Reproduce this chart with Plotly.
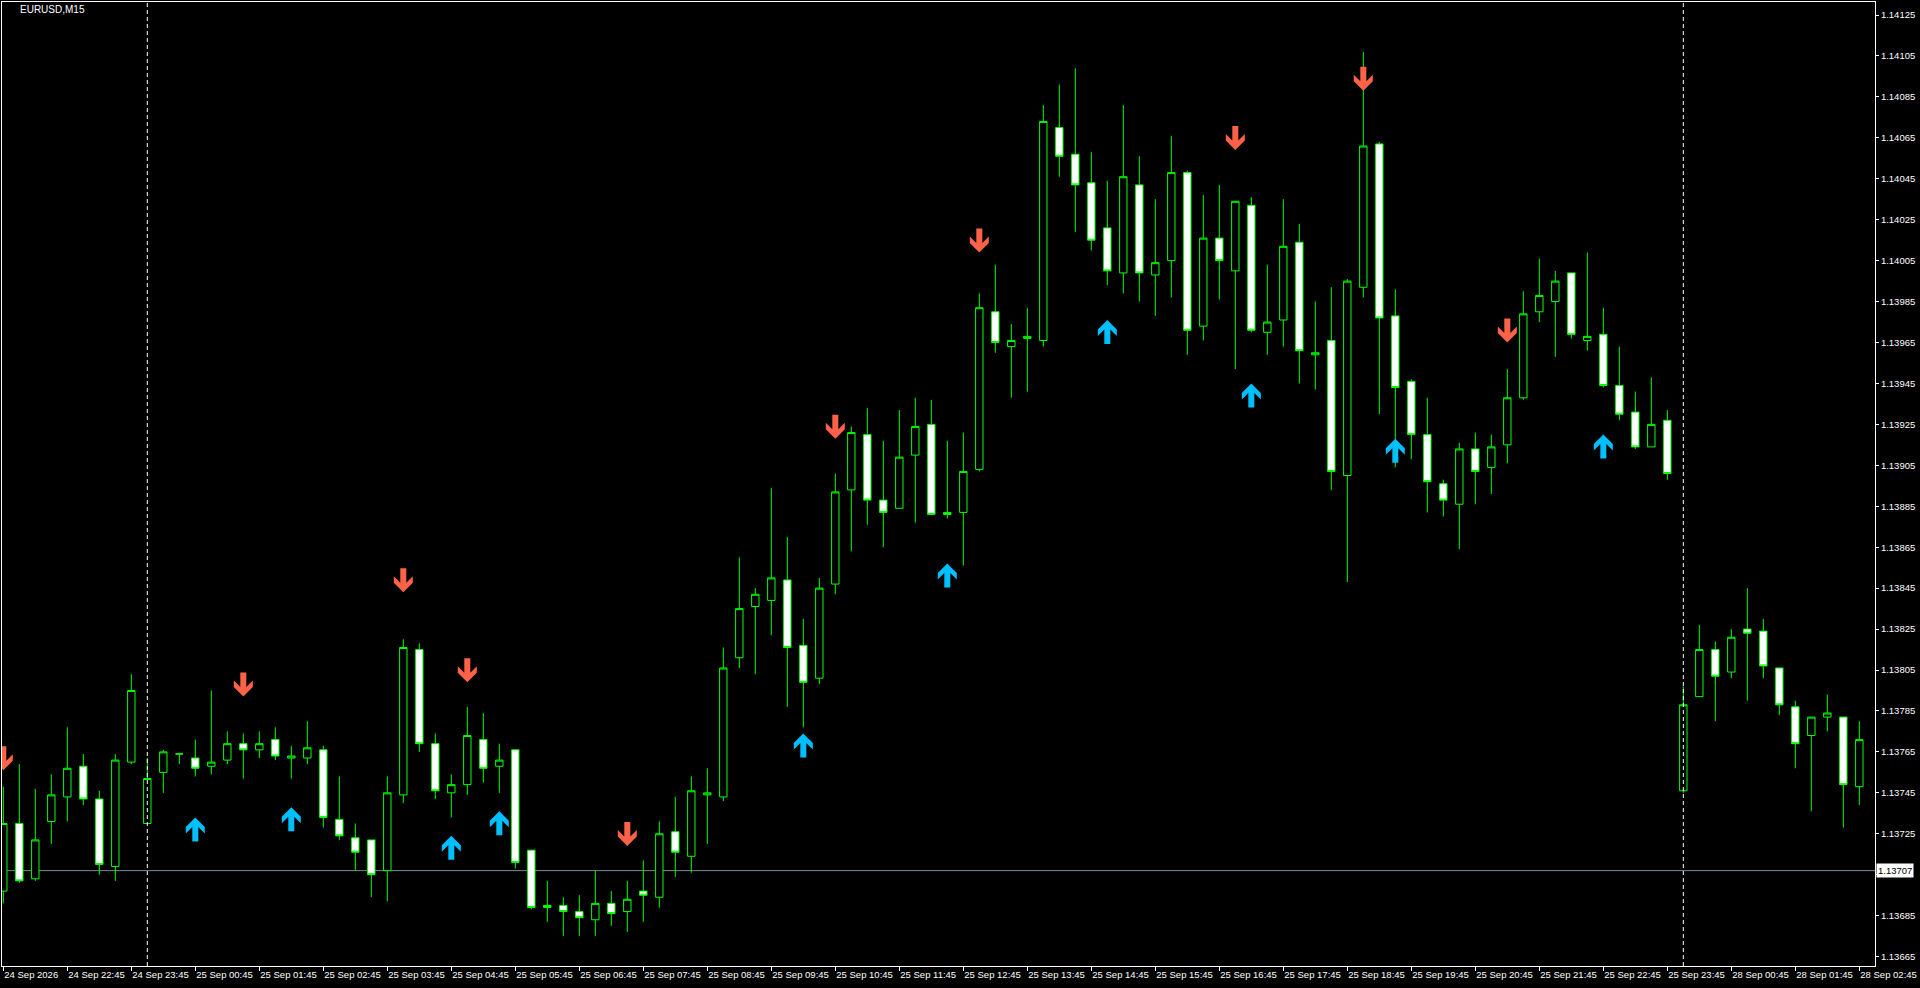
import plotly.graph_objects as go

# ---------------- data ----------------
bar_index = list(range(117))

opens = [1.13697,1.13730,1.13703,1.13731,1.13743,1.13758,1.13742,1.13709,1.13760,1.13730,
         1.13755,1.13764,1.13762,1.13758,1.13761,1.13769,1.13766,1.13771,1.13762,1.13762,
         1.13766,1.13732,1.13723,1.13722,1.13707,1.13744,1.13815,1.13769,1.13745,1.13749,
         1.13771,1.13758,1.13766,1.13717,1.13690,1.13690,1.13687,1.13683,1.13691,1.13687,
         1.13697,1.13694,1.13726,1.13714,1.13744,1.13743,1.13811,1.13836,1.13839,1.13849,
         1.13817,1.13801,1.13847,1.13893,1.13920,1.13888,1.13884,1.13910,1.13925,1.13882,
         1.13882,1.13903,1.13980,1.13963,1.13967,1.13966,1.14070,1.14057,1.14043,1.14021,
         1.13999,1.14042,1.13998,1.14005,1.14048,1.13973,1.14016,1.14000,1.14032,1.13970,
         1.13976,1.14014,1.13959,1.13966,1.13900,1.13992,1.14062,1.13978,1.13946,1.13920,
         1.13896,1.13886,1.13913,1.13904,1.13915,1.13938,1.13980,1.13985,1.13999,1.13966,
         1.13969,1.13944,1.13931,1.13914,1.13927,1.13746,1.13792,1.13815,1.13804,1.13825,
         1.13824,1.13806,1.13787,1.13773,1.13782,1.13782,1.13748]

highs = [1.13748,1.13759,1.13747,1.13754,1.13777,1.13764,1.13746,1.13764,1.13803,1.13762,
         1.13766,1.13764,1.13771,1.13795,1.13775,1.13774,1.13775,1.13777,1.13768,1.13780,
         1.13768,1.13753,1.13730,1.13722,1.13753,1.13820,1.13818,1.13774,1.13754,1.13787,
         1.13784,1.13769,1.13766,1.13717,1.13702,1.13694,1.13695,1.13707,1.13697,1.13702,
         1.13712,1.13731,1.13743,1.13753,1.13757,1.13816,1.13860,1.13845,1.13894,1.13870,
         1.13830,1.13850,1.13901,1.13924,1.13933,1.13917,1.13932,1.13938,1.13937,1.13917,
         1.13921,1.13989,1.14003,1.13974,1.13982,1.14081,1.14091,1.14099,1.14058,1.14044,
         1.14081,1.14056,1.14035,1.14066,1.14049,1.14037,1.14042,1.14034,1.14036,1.14003,
         1.14035,1.14023,1.13985,1.13992,1.13996,1.14107,1.14063,1.13991,1.13947,1.13938,
         1.13898,1.13916,1.13921,1.13920,1.13952,1.13990,1.14006,1.14000,1.13999,1.14009,
         1.13982,1.13963,1.13941,1.13948,1.13932,1.13797,1.13827,1.13819,1.13825,1.13845,
         1.13830,1.13806,1.13790,1.13782,1.13793,1.13782,1.13780]

lows = [1.13691,1.13701,1.13702,1.13720,1.13731,1.13739,1.13705,1.13702,1.13759,1.13730,
        1.13745,1.13759,1.13753,1.13754,1.13759,1.13752,1.13762,1.13761,1.13752,1.13759,
        1.13728,1.13722,1.13707,1.13694,1.13692,1.13740,1.13765,1.13742,1.13733,1.13744,
        1.13750,1.13745,1.13708,1.13688,1.13682,1.13675,1.13675,1.13675,1.13680,1.13677,
        1.13682,1.13689,1.13704,1.13706,1.13720,1.13741,1.13806,1.13803,1.13822,1.13787,
        1.13777,1.13798,1.13842,1.13863,1.13876,1.13865,1.13884,1.13877,1.13881,1.13879,
        1.13856,1.13902,1.13960,1.13938,1.13941,1.13963,1.14046,1.14019,1.14010,1.13993,
        1.13989,1.13985,1.13978,1.13987,1.13959,1.13966,1.13986,1.13952,1.13970,1.13959,
        1.13963,1.13945,1.13942,1.13893,1.13848,1.13987,1.13930,1.13904,1.13908,1.13882,
        1.13880,1.13864,1.13886,1.13891,1.13906,1.13937,1.13975,1.13958,1.13967,1.13961,
        1.13943,1.13927,1.13913,1.13914,1.13898,1.13745,1.13792,1.13780,1.13801,1.13790,
        1.13801,1.13783,1.13757,1.13736,1.13775,1.13728,1.13739]

closes = [1.13730,1.13702,1.13722,1.13744,1.13757,1.13742,1.13710,1.13761,1.13795,1.13752,
          1.13765,1.13764,1.13757,1.13760,1.13769,1.13766,1.13769,1.13763,1.13763,1.13767,
          1.13733,1.13724,1.13716,1.13705,1.13745,1.13816,1.13769,1.13746,1.13749,1.13773,
          1.13757,1.13761,1.13711,1.13689,1.13689,1.13687,1.13684,1.13691,1.13686,1.13693,
          1.13695,1.13725,1.13716,1.13746,1.13745,1.13806,1.13835,1.13842,1.13850,1.13816,
          1.13799,1.13845,1.13892,1.13921,1.13888,1.13882,1.13909,1.13924,1.13881,1.13881,
          1.13902,1.13982,1.13965,1.13966,1.13968,1.14073,1.14056,1.14042,1.14015,1.14000,
          1.14046,1.13999,1.14004,1.14048,1.13971,1.14016,1.14005,1.14034,1.13971,1.13975,
          1.14012,1.13961,1.13960,1.13902,1.13995,1.14061,1.13977,1.13943,1.13920,1.13897,
          1.13888,1.13913,1.13902,1.13914,1.13938,1.13979,1.13988,1.13995,1.13969,1.13968,
          1.13944,1.13930,1.13914,1.13925,1.13901,1.13788,1.13815,1.13802,1.13821,1.13823,
          1.13807,1.13788,1.13769,1.13782,1.13784,1.13749,1.13771]

# signal arrows (bar index, price of arrow tip)
sell_bars = [0, 15, 25, 29, 39, 52, 61, 77, 85, 94]
sell_tips = [1.13756, 1.13792, 1.13843, 1.13799, 1.13719, 1.13918, 1.14009, 1.14059, 1.14088, 1.13965]
buy_bars = [12, 18, 28, 31, 50, 59, 69, 78, 87, 100]
buy_tips = [1.13733, 1.13738, 1.13724, 1.13736, 1.13774, 1.13857, 1.13976, 1.13945, 1.13918, 1.13920]

x_tick_bars = list(range(0, 117, 4))
x_tick_text = ["24 Sep 2026", "24 Sep 22:45", "24 Sep 23:45", "25 Sep 00:45", "25 Sep 01:45",
               "25 Sep 02:45", "25 Sep 03:45", "25 Sep 04:45", "25 Sep 05:45", "25 Sep 06:45",
               "25 Sep 07:45", "25 Sep 08:45", "25 Sep 09:45", "25 Sep 10:45", "25 Sep 11:45",
               "25 Sep 12:45", "25 Sep 13:45", "25 Sep 14:45", "25 Sep 15:45", "25 Sep 16:45",
               "25 Sep 17:45", "25 Sep 18:45", "25 Sep 19:45", "25 Sep 20:45", "25 Sep 21:45",
               "25 Sep 22:45", "25 Sep 23:45", "28 Sep 00:45", "28 Sep 01:45", "28 Sep 02:45"]

price_ticks = [1.13665, 1.13685, 1.13705, 1.13725, 1.13745, 1.13765, 1.13785, 1.13805,
               1.13825, 1.13845, 1.13865, 1.13885, 1.13905, 1.13925, 1.13945, 1.13965,
               1.13985, 1.14005, 1.14025, 1.14045, 1.14065, 1.14085, 1.14105, 1.14125]

day_separators = [9, 105]
bid_price = 1.13707
symbol_label = "EURUSD,M15"

# tick text; the one hidden under the bid-price box is left blank
price_tick_text = ["" if abs(v - bid_price) < 0.00005 else "%.5f" % v for v in price_ticks]

# ---------------- layout geometry ----------------
FIG_W, FIG_H = 1920, 988
M_L, M_R, M_T, M_B = 2, 45, 2, 22
PLOT_W = FIG_W - M_L - M_R
PLOT_H = FIG_H - M_T - M_B
X_RANGE = [-0.081, 116.98]
Y_RANGE = [1.136604, 1.1413135]
PX_X = (X_RANGE[1] - X_RANGE[0]) / PLOT_W
PX_Y = (Y_RANGE[1] - Y_RANGE[0]) / PLOT_H

GREEN = "#00FF00"
FONT = "Liberation Sans, Arial, sans-serif"
fig = go.Figure()

fig.add_trace(go.Candlestick(
    x=bar_index, open=opens, high=highs, low=lows, close=closes,
    increasing=dict(line=dict(color=GREEN, width=1), fillcolor="#000000"),
    decreasing=dict(line=dict(color=GREEN, width=1), fillcolor="#FFFFFF"),
    whiskerwidth=0, hoverinfo="skip", showlegend=False,
))

# arrow glyph outline in pixels (tip at origin, y measured away from tip)
arrow_px = [(0, 0), (9.5, 9.5), (9.5, 16), (3, 9.5), (3, 24), (-3, 24), (-3, 9.5),
            (-9.5, 16), (-9.5, 9.5), (0, 0)]


def arrow_polys(bars, tips, direction):
    xs, ys = [], []
    for b, p in zip(bars, tips):
        for dx, dy in arrow_px:
            xs.append(b + dx * PX_X)
            ys.append(p + direction * dy * PX_Y)
        xs.append(None)
        ys.append(None)
    return xs, ys


sx, sy = arrow_polys(sell_bars, sell_tips, +1)
bx, by = arrow_polys(buy_bars, buy_tips, -1)
fig.add_trace(go.Scatter(x=sx, y=sy, mode="lines", fill="toself", fillcolor="#FF6347",
                         line=dict(width=0, color="#FF6347"), hoverinfo="skip", showlegend=False))
fig.add_trace(go.Scatter(x=bx, y=by, mode="lines", fill="toself", fillcolor="#00BFFF",
                         line=dict(width=0, color="#00BFFF"), hoverinfo="skip", showlegend=False))

shapes = []
for b in day_separators:
    shapes.append(dict(type="line", xref="x", yref="paper", x0=b, x1=b, y0=0, y1=1,
                       line=dict(color="#FFFFFF", width=1, dash="4px,3px"), layer="above"))
shapes.append(dict(type="line", xref="paper", yref="y", x0=0, x1=1, y0=bid_price, y1=bid_price,
                   line=dict(color="#778899", width=1), layer="below"))

axis_font = dict(family=FONT, size=9.5, color="#FFFFFF")

fig.update_layout(
    width=FIG_W, height=FIG_H, autosize=False,
    margin=dict(l=M_L, r=M_R, t=M_T, b=M_B, pad=0),
    paper_bgcolor="#000000", plot_bgcolor="#000000",
    boxgap=0.34,
    showlegend=False,
    shapes=shapes,
    xaxis=dict(range=X_RANGE, rangeslider=dict(visible=False), showgrid=False, zeroline=False,
               tickmode="array", tickvals=x_tick_bars, ticktext=x_tick_text, tickangle=0,
               ticks="outside", ticklen=4, tickcolor="#FFFFFF", tickwidth=1,
               ticklabelposition="outside right", tickfont=axis_font, automargin=False,
               showline=True, linecolor="#FFFFFF", linewidth=1, mirror=True, fixedrange=True),
    yaxis=dict(range=Y_RANGE, side="right", showgrid=False, zeroline=False,
               tickmode="array", tickvals=price_ticks, ticktext=price_tick_text,
               ticks="outside", ticklen=3, tickcolor="#FFFFFF", tickwidth=1,
               tickfont=axis_font, automargin=False,
               showline=True, linecolor="#FFFFFF", linewidth=1, mirror=True, fixedrange=True),
    annotations=[
        dict(text=symbol_label, xref="paper", yref="paper", x=(18 - M_L) / PLOT_W, y=1 - (10 - M_T) / PLOT_H,
             xanchor="left", yanchor="middle", showarrow=False,
             font=dict(family=FONT, size=10, color="#FFFFFF")),
        dict(text="%.5f" % bid_price, xref="paper", yref="y", x=1, y=bid_price, xshift=1,
             xanchor="left", yanchor="middle", showarrow=False, bgcolor="#FFFFFF",
             borderpad=1, font=dict(family=FONT, size=9.5, color="#000000")),
    ],
)

fig.write_html("out.html", config={"displayModeBar": False},
               post_script="document.body.style.margin='0';document.body.style.overflow='hidden';")
